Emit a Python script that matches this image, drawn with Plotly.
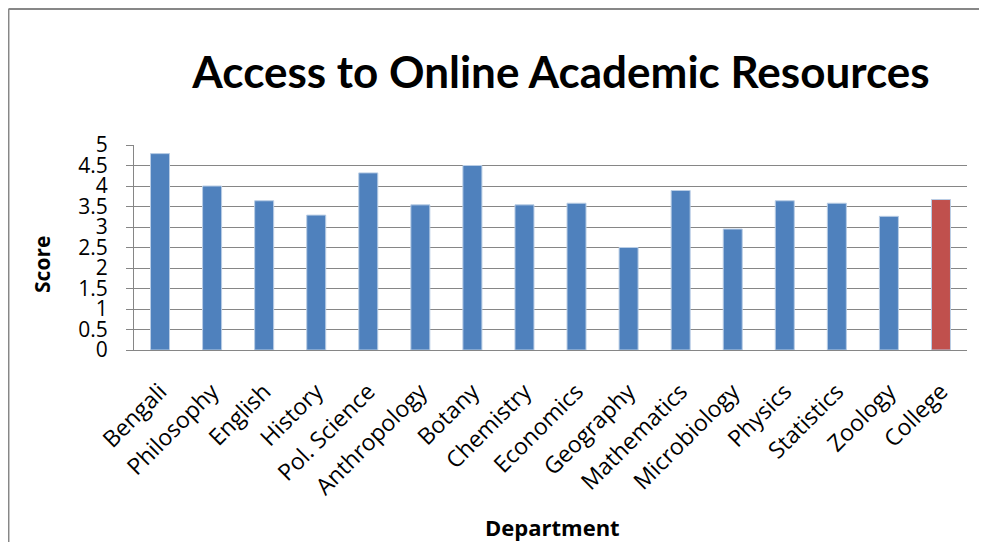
import plotly.graph_objects as go

departments = ["Bengali", "Philosophy", "English", "History", "Pol. Science",
               "Anthropology", "Botany", "Chemistry", "Economics", "Geography",
               "Mathematics", "Microbiology", "Physics", "Statistics", "Zoology",
               "College"]
scores = [4.79, 4.00, 3.64, 3.29, 4.32, 3.54, 4.50, 3.54, 3.58, 2.50,
          3.89, 2.95, 3.64, 3.58, 3.26, 3.67]
y_ticks = [0, 0.5, 1, 1.5, 2, 2.5, 3, 3.5, 4, 4.5, 5]

colors = ["#4F81BD"] * (len(departments) - 1) + ["#C0504D"]

fig = go.Figure()
fig.add_trace(go.Bar(
    x=departments,
    y=scores,
    marker=dict(color=colors, line=dict(color="#B9CDE5", width=1)),
))

font = "'Open Sans', sans-serif"

fig.update_xaxes(
    tickangle=-45,
    tickfont=dict(family=font, size=23, color="#000000"),
    ticklabelstandoff=18,
    showline=True, linecolor="#868686", linewidth=1,
    ticks="", showgrid=False,
)
fig.update_yaxes(
    range=[0, 5],
    tickvals=y_ticks,
    ticktext=[str(v) for v in y_ticks],
    tickfont=dict(family=font, size=21, color="#000000"),
    ticklabelstandoff=14,
    showline=True, linecolor="#868686", linewidth=1,
    ticks="outside", ticklen=7, tickcolor="#868686",
    showgrid=True, gridcolor="#868686", gridwidth=1,
    zeroline=False,
)

# chart frame (top and left edges)
fig.add_shape(type="line", xref="paper", yref="paper",
              x0=-0.1507, x1=1.1, y0=1.663, y1=1.663,
              line=dict(color="#878787", width=2))
fig.add_shape(type="line", xref="paper", yref="paper",
              x0=-0.1507, x1=-0.1507, y0=1.663, y1=-1.2,
              line=dict(color="#878787", width=2))

fig.add_annotation(text="<b>Score</b>", xref="paper", yref="paper",
                   x=-0.1104, y=0.415, textangle=-90, showarrow=False,
                   xanchor="center", yanchor="middle",
                   font=dict(family=font, size=21, color="#000000"))
fig.add_annotation(text="<b>Department</b>", xref="paper", yref="paper",
                   x=0.502, y=-0.863, showarrow=False,
                   xanchor="center", yanchor="middle",
                   font=dict(family=font, size=22, color="#000000"))

fig.update_layout(
    width=987, height=542,
    margin=dict(l=126, r=28, t=137, b=200),
    title=dict(text="<b>Access to Online Academic Resources</b>",
               xref="container", x=0.5603, xanchor="center",
               y=0.88, yanchor="middle",
               font=dict(family="Lato, " + font, size=44, color="#000000")),
    paper_bgcolor="white",
    plot_bgcolor="white",
    bargap=0.635,
    showlegend=False,
)

fig.write_html("out.html")
